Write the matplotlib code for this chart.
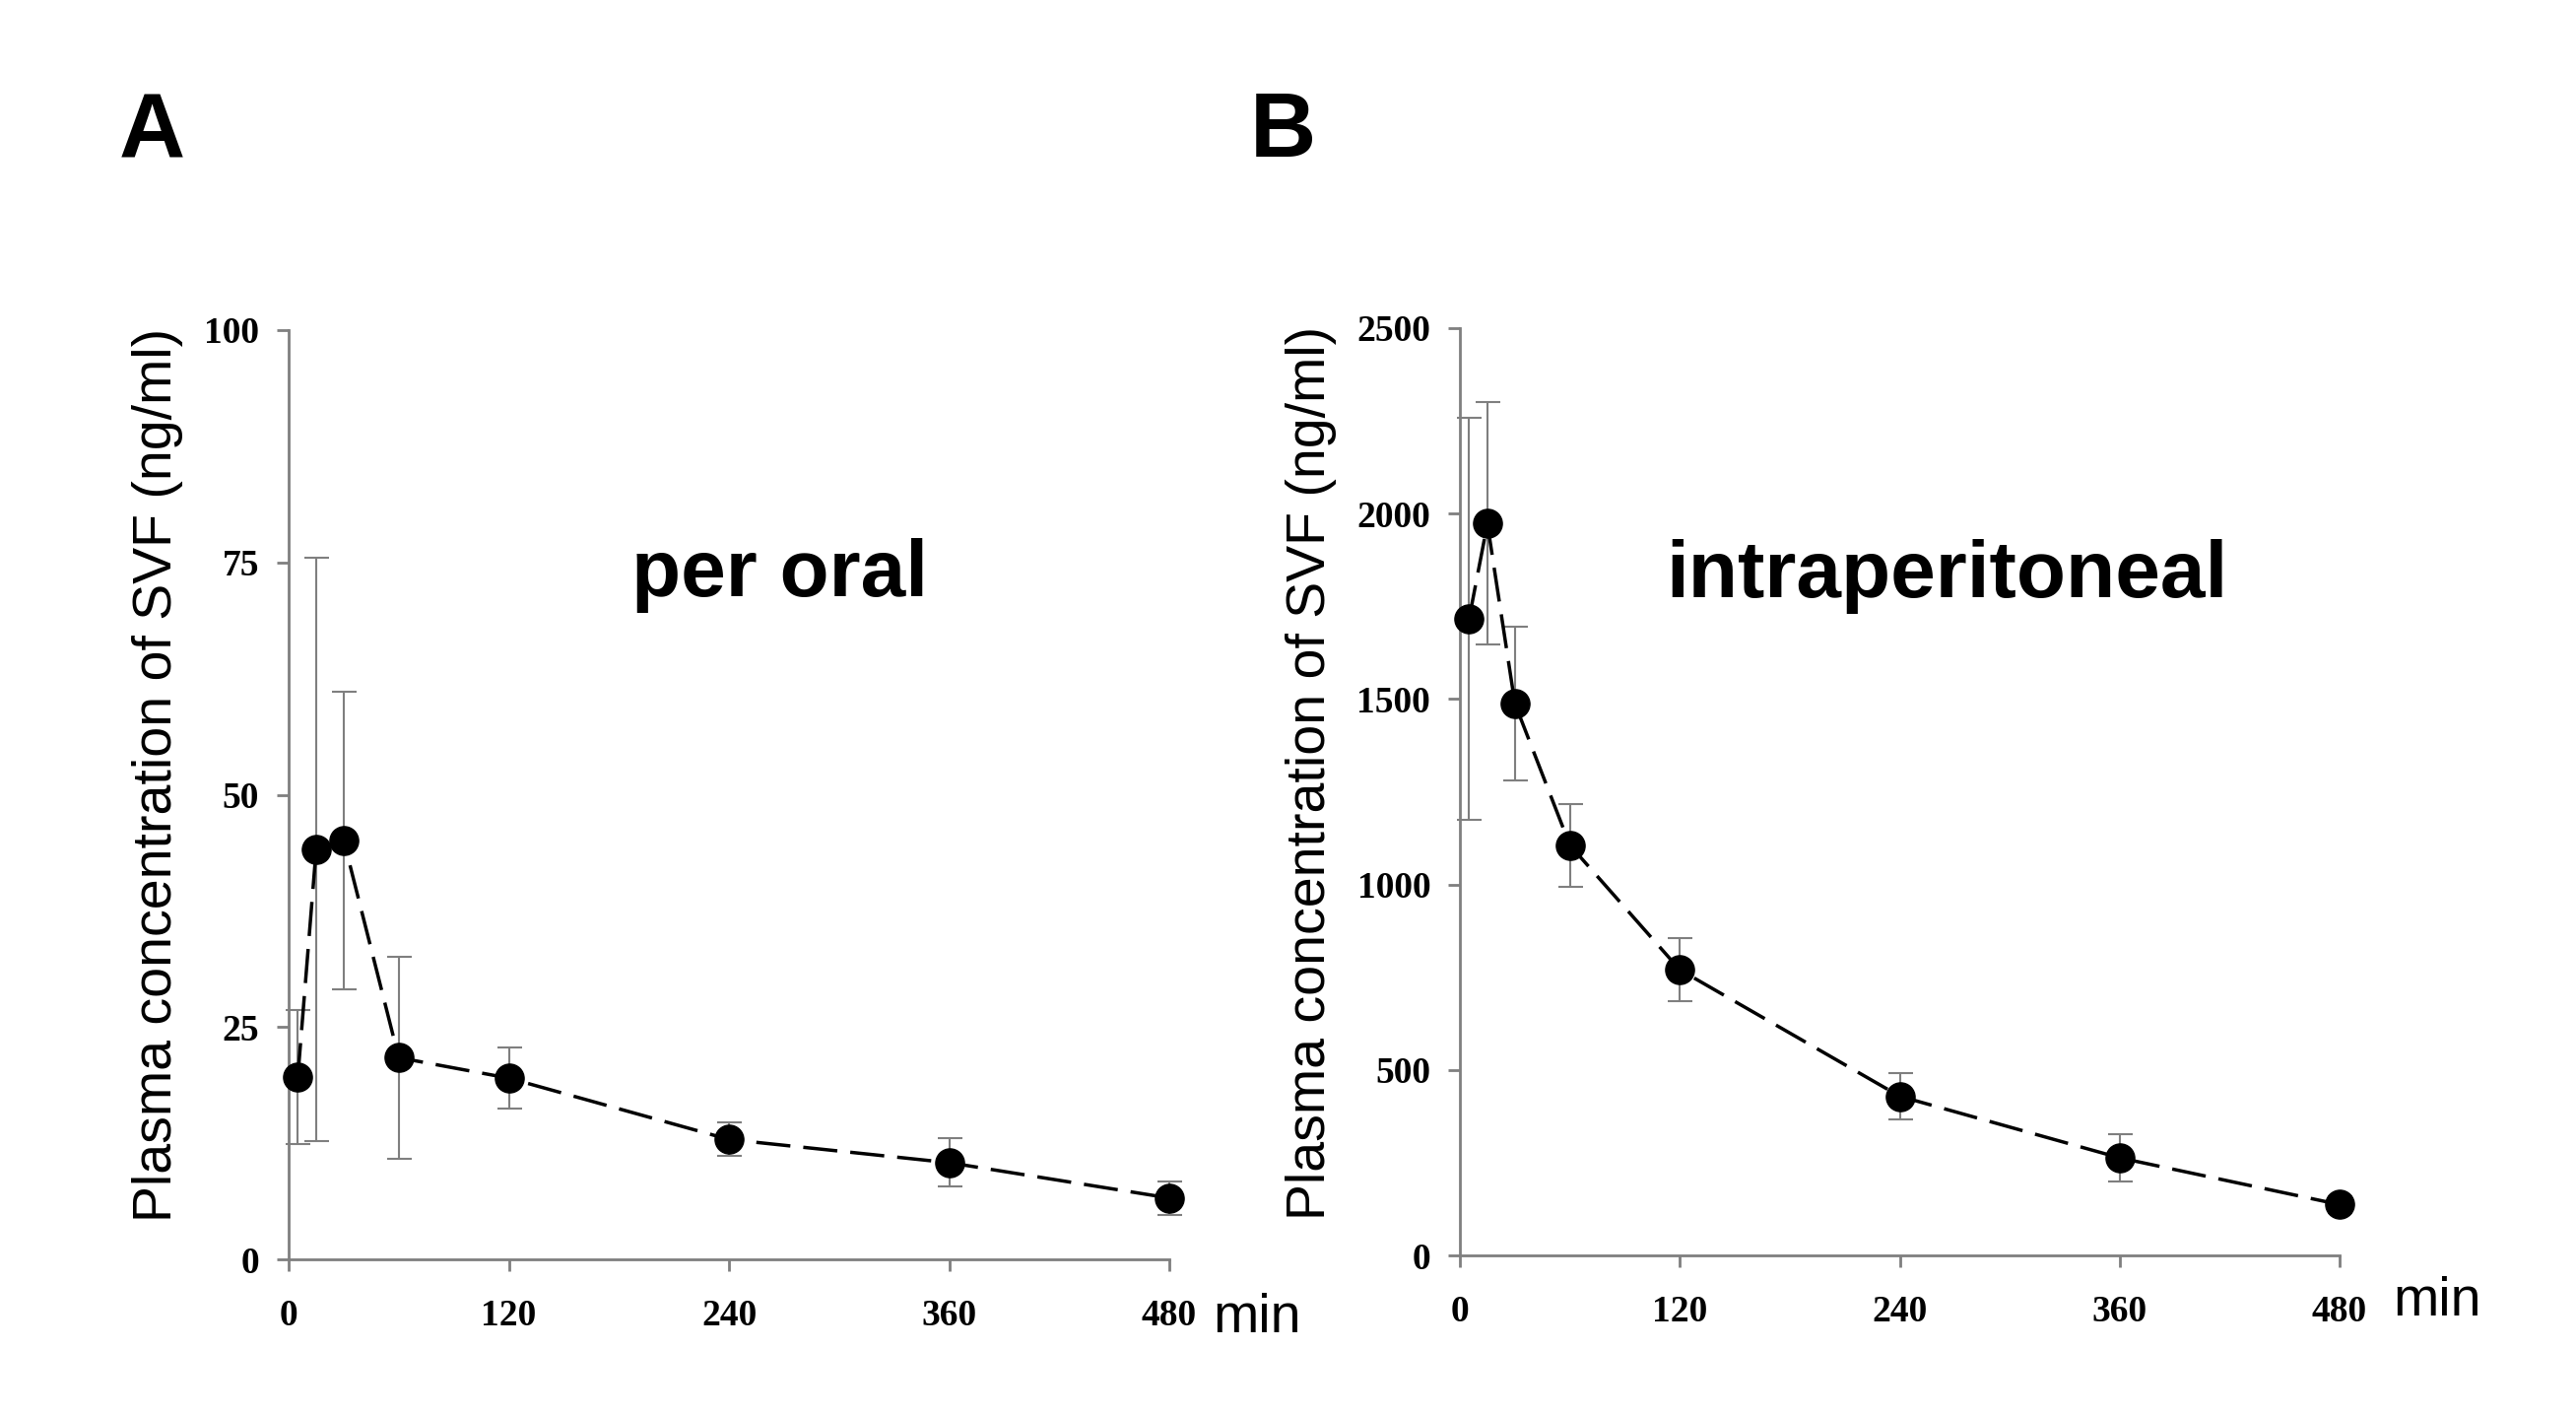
import matplotlib
matplotlib.use("Agg")
import matplotlib.pyplot as plt

# sampling times (min)
time_min = [5, 15, 30, 60, 120, 240, 360, 480]

# A: per oral, mean and SD (ng/ml)
oral_mean = [19.6, 44.1, 45.1, 21.7, 19.5, 12.9, 10.4, 6.6]
oral_sd = [7.2, 31.4, 16.0, 10.9, 3.3, 1.8, 2.6, 1.8]

# B: intraperitoneal, mean and SD (ng/ml)
ip_mean = [1716, 1973, 1488, 1106, 770, 429, 263, 137]
ip_sd = [543, 327, 208, 112, 85, 63, 63, 22]

x_ticks = [0, 120, 240, 360, 480]
oral_yticks = [0, 25, 50, 75, 100]
ip_yticks = [0, 500, 1000, 1500, 2000, 2500]

ylabel = "Plasma concentration of SVF (ng/ml)"

W, H = 2615, 1437
fig = plt.figure(figsize=(W / 100, H / 100), dpi=100)

gray = "#7f7f7f"


def px(x, y):
    # pixel position (from top-left) -> figure fraction
    return x / W, (H - y) / H


def draw(ax, mean, sd, yticks):
    ax.errorbar(time_min, mean, yerr=sd, fmt="none", ecolor=gray,
                elinewidth=1.5, capsize=9, capthick=1.5, zorder=2, clip_on=False)
    ax.plot(time_min, mean, color="black", lw=2.5, dashes=(10, 3.8),
            marker="o", markersize=21, markerfacecolor="black",
            markeredgecolor="black", zorder=3, clip_on=False)
    ax.set_xlim(0, 480)
    ax.set_ylim(yticks[0], yticks[-1])
    ax.set_xticks(x_ticks)
    ax.set_yticks(yticks)
    for s in ["top", "right"]:
        ax.spines[s].set_visible(False)
    for s in ["left", "bottom"]:
        ax.spines[s].set_color(gray)
        ax.spines[s].set_linewidth(2)
    ax.tick_params(axis="both", direction="out", length=8.5, width=2, color=gray)
    ax.tick_params(axis="y", pad=13)
    ax.tick_params(axis="x", pad=20)
    for lab in ax.get_xticklabels() + ax.get_yticklabels():
        lab.set_fontfamily("Liberation Serif")
        lab.set_fontweight("bold")
        lab.set_fontsize(27)


# panel A
l, b = px(293, 1278)
axA = fig.add_axes([l, b, (1187 - 293) / W, (1278 - 335) / H])
draw(axA, oral_mean, oral_sd, oral_yticks)

# panel B
l, b = px(1482, 1274)
axB = fig.add_axes([l, b, (2375 - 1482) / W, (1274 - 333) / H])
draw(axB, ip_mean, ip_sd, ip_yticks)

sans = "Liberation Sans"

# y labels
for xx, yy in [(174, 1240), (1345, 1238)]:
    fx, fy = px(xx, yy)
    fig.text(fx, fy, ylabel, rotation=90, rotation_mode="anchor",
             ha="left", va="baseline", fontsize=40, family=sans)

# "min" labels
for xx, yy in [(1231, 1352), (2429, 1335)]:
    fx, fy = px(xx, yy)
    fig.text(fx, fy, "min", ha="left", va="baseline", fontsize=40, family=sans)

# route titles
fx, fy = px(641, 605)
fig.text(fx, fy, "per oral", ha="left", va="baseline", fontsize=59,
         family=sans, fontweight="bold")
fx, fy = px(1691, 606)
fig.text(fx, fy, "intraperitoneal", ha="left", va="baseline", fontsize=59,
         family=sans, fontweight="bold")

# panel letters
for xx, letter in [(121, "A"), (1269, "B")]:
    fx, fy = px(xx, 159)
    fig.text(fx, fy, letter, ha="left", va="baseline", fontsize=67,
             family=sans, fontweight="bold")

fig.savefig("out.png", dpi=100)
